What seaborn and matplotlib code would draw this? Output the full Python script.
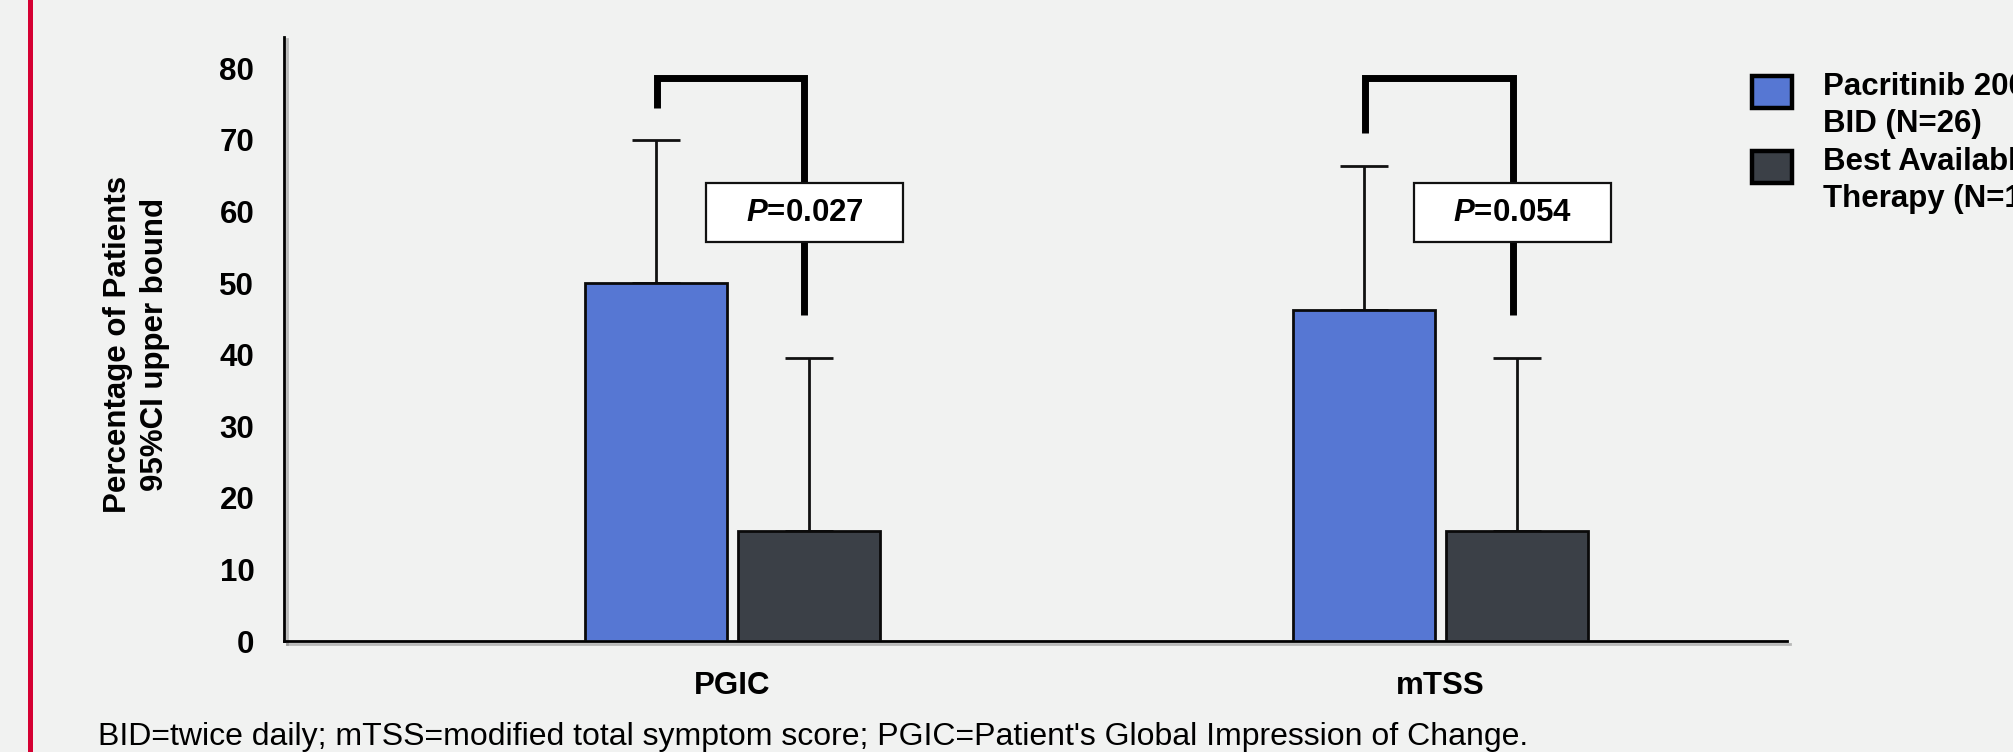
import pandas as pd
import numpy as np
import matplotlib
matplotlib.use("Agg")
import matplotlib.pyplot as plt
import matplotlib.patches as mpatches
import matplotlib.patheffects as pe
from matplotlib.container import BarContainer
import seaborn as sns

# values
measures = ["PGIC", "mTSS"]
groups = ["Pacritinib 200 mg\nBID (N=26)", "Best Available\nTherapy (N=13)"]
pac_pct = [50.0, 46.2]
bat_pct = [15.4, 15.4]
pac_upper = [70.0, 66.4]
bat_upper = [39.5, 39.5]
p_values = ["0.027", "0.054"]
footnote = ("BID=twice daily; mTSS=modified total symptom score; "
            "PGIC=Patient's Global Impression of Change.")

df = pd.DataFrame({
    "measure": measures * 2,
    "group": [groups[0]] * 2 + [groups[1]] * 2,
    "pct": pac_pct + bat_pct,
    "upper": pac_upper + bat_upper,
})

bg = "#F1F2F1"
sns.set_theme(style="white")
plt.rcParams["font.family"] = ["Liberation Sans", "DejaVu Sans"]
plt.rcParams["mathtext.fontset"] = "custom"
plt.rcParams["mathtext.it"] = "Liberation Sans:italic:bold"
plt.rcParams["mathtext.rm"] = "Liberation Sans:bold"
for k in ["text.color", "axes.labelcolor", "xtick.color", "ytick.color"]:
    plt.rcParams[k] = "black"
fs = 22.5

fig = plt.figure(figsize=(20.13, 7.52), dpi=100, facecolor=bg)
ax = fig.add_axes([0.1411, 0.1476, 0.8877 - 0.1411, 0.9512 - 0.1476])
ax.set_facecolor(bg)

sns.barplot(data=df, x="measure", y="pct", hue="group", order=measures,
            hue_order=groups, palette=["#5677D3", "#3B4047"], width=0.432,
            gap=0.074, errorbar=None, edgecolor="#0a0a0a", linewidth=2.0,
            saturation=1, ax=ax, zorder=3)

# upper-bound error bars from the bar centres
uppers = [pac_upper, bat_upper]
vals = [pac_pct, bat_pct]
bars = [c for c in ax.containers if isinstance(c, BarContainer)]
centres = []
for k, cont in enumerate(bars):
    xs = [b.get_x() + b.get_width() / 2 for b in cont]
    centres.append(xs)
    ax.errorbar(xs, vals[k], yerr=[np.zeros(2), np.array(uppers[k]) - np.array(vals[k])],
                fmt="none", ecolor="#111111", elinewidth=2, capsize=17, capthick=2,
                zorder=2)

# significance brackets
top_y = 78.7
box_w, box_h, box_yc = 0.277, 8.2, 59.8
for i in range(len(measures)):
    x1, x2 = centres[0][i] + 0.002, centres[1][i] - 0.006
    ax.plot([x1, x1, x2, x2], [pac_upper[i] + 4.5, top_y, top_y, bat_upper[i] + 6.1],
            color="black", lw=5, solid_joinstyle="miter", solid_capstyle="butt",
            zorder=4)
    ax.add_patch(mpatches.Rectangle((x2 - box_w / 2, box_yc - box_h / 2), box_w, box_h,
                                    facecolor="white", edgecolor="#111111", lw=1.6,
                                    zorder=5))
    ax.text(x2, box_yc, r"$\mathit{P}$=" + p_values[i], ha="center", va="center",
            fontsize=fs, fontweight="bold", zorder=6)

ax.set_xlim(-0.633, 1.4895)
ax.set_ylim(0, 84.4)
ax.set_yticks(range(0, 81, 10))
ax.set_xlabel("")
ax.set_ylabel("Percentage of Patients\n95%CI upper bound", fontsize=fs,
              fontweight="bold", linespacing=1.3)
ax.yaxis.set_label_coords(-0.0758, 0.49)
ax.tick_params(axis="y", length=14.4, width=2, pad=7, labelsize=fs, color="black")
ax.tick_params(axis="x", length=0, pad=21.5, labelsize=fs)
for lab in ax.get_xticklabels() + ax.get_yticklabels():
    lab.set_fontweight("bold")
for s in ["top", "right"]:
    ax.spines[s].set_visible(False)
for s in ["left", "bottom"]:
    ax.spines[s].set_linewidth(2)
    ax.spines[s].set_color("black")
    ax.spines[s].set_path_effects([pe.SimpleLineShadow(offset=(2, -2), shadow_color="gray", alpha=0.5),
                                   pe.Normal()])

sns.move_legend(ax, "upper left", bbox_to_anchor=(0.8704, 0.9043),
                bbox_transform=fig.transFigure, title=None, frameon=False,
                fontsize=fs, borderpad=0, borderaxespad=0, handlelength=1.27,
                handleheight=1.18, handletextpad=1.0, labelspacing=0.26)
leg = ax.get_legend()
for t in leg.get_texts():
    t.set_fontweight("bold")
    t.set_linespacing(1.31)
for h in leg.legend_handles:
    h.set_linewidth(3.2)
    h.set_edgecolor("black")
    # lift the swatch so it sits level with the first label line
    h.set_y(h.get_y() + 10.5)

fig.text(0.0488, 0.0093, footnote, fontsize=23, ha="left", va="baseline")
fig.add_artist(mpatches.Rectangle((0.0139, 0), 0.0025, 1, transform=fig.transFigure,
                                  facecolor="#D50032", edgecolor="none"))

fig.savefig("out.png", dpi=100, facecolor=bg)
